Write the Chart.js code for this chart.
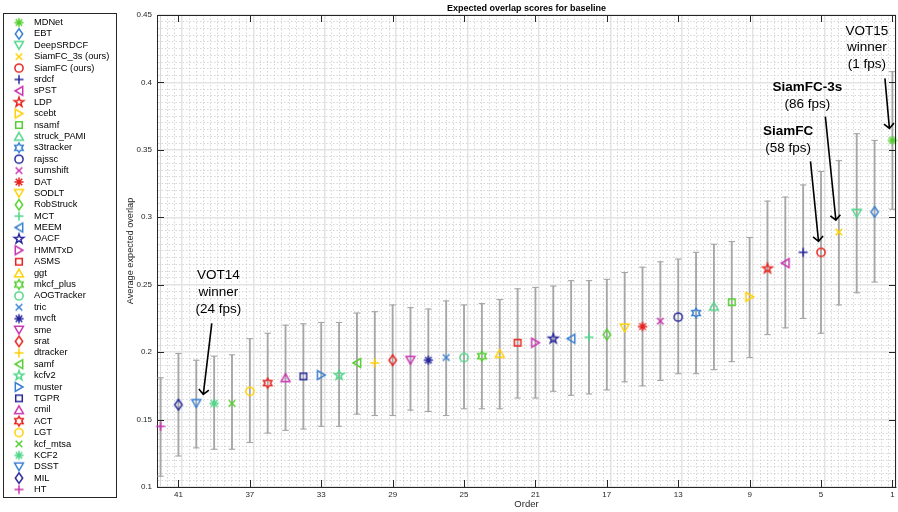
<!DOCTYPE html>
<html>
<head>
<meta charset="utf-8">
<title>Expected overlap scores for baseline</title>
<script src="https://cdn.jsdelivr.net/npm/chart.js@4.4.0/dist/chart.umd.min.js"></script>
<style>
  html, body { margin: 0; padding: 0; background: #fff; overflow: hidden; }
  #wrap { width: 898px; height: 512px; position: relative; }
  #wrap canvas { display: block; }
</style>
</head>
<body>
<div id="wrap"><canvas id="eaoChart"></canvas></div>
<script>
// trackers in rank order (order 1 = best)
const trackers = [
    "MDNet", "EBT", "DeepSRDCF", "SiamFC_3s (ours)", "SiamFC (ours)", "srdcf", "sPST",
    "LDP", "scebt", "nsamf", "struck_PAMI", "s3tracker", "rajssc", "sumshift",
    "DAT", "SODLT", "RobStruck", "MCT", "MEEM", "OACF", "HMMTxD",
    "ASMS", "ggt", "mkcf_plus", "AOGTracker", "tric", "mvcft", "sme",
    "srat", "dtracker", "samf", "kcfv2", "muster", "TGPR", "cmil",
    "ACT", "LGT", "kcf_mtsa", "KCF2", "DSST", "MIL", "HT"
];
const eaoScores = [
    0.357, 0.304, 0.303, 0.289, 0.274, 0.274, 0.266,
    0.262, 0.241, 0.237, 0.234, 0.229, 0.226, 0.223,
    0.219, 0.218, 0.213, 0.211, 0.210, 0.210, 0.207,
    0.207, 0.199, 0.197, 0.196, 0.196, 0.194, 0.194,
    0.194, 0.192, 0.192, 0.183, 0.183, 0.182, 0.181,
    0.177, 0.171, 0.162, 0.162, 0.162, 0.161, 0.145
];
const eaoLow = [
    0.306, 0.252, 0.244, 0.235, 0.214, 0.225, 0.218,
    0.213, 0.196, 0.193, 0.187, 0.184, 0.184, 0.179,
    0.175, 0.178, 0.172, 0.169, 0.168, 0.171, 0.166,
    0.166, 0.158, 0.158, 0.158, 0.153, 0.156, 0.157,
    0.153, 0.153, 0.154, 0.145, 0.145, 0.143, 0.142,
    0.140, 0.133, 0.128, 0.128, 0.129, 0.123, 0.108
];
const eaoHigh = [
    0.408, 0.357, 0.362, 0.342, 0.334, 0.324, 0.315,
    0.312, 0.285, 0.282, 0.280, 0.274, 0.269, 0.267,
    0.263, 0.259, 0.254, 0.253, 0.253, 0.249, 0.248,
    0.247, 0.239, 0.236, 0.235, 0.238, 0.232, 0.233,
    0.235, 0.230, 0.229, 0.222, 0.222, 0.221, 0.220,
    0.214, 0.210, 0.198, 0.197, 0.194, 0.199, 0.181
];
const xTickLabels = [41, 37, 33, 29, 25, 21, 17, 13, 9, 5, 1];
const yTickLabels = [0.1, 0.15, 0.2, 0.25, 0.3, 0.35, 0.4, 0.45];

// marker shape and colour per tracker (MATLAB style)
const markerShapes = [
    "star", "diamond", "down", "x", "circle", "plus", "left",
    "penta", "right", "square", "up", "hexa", "circle", "x",
    "star", "down", "diamond", "plus", "left", "penta", "right",
    "square", "up", "hexa", "circle", "x", "star", "down",
    "diamond", "plus", "left", "penta", "right", "square", "up",
    "hexa", "circle", "x", "star", "down", "diamond", "plus"
];
const markerColors = [
    "green", "blue", "mint", "yellow", "red", "navy", "magenta",
    "red", "yellow", "green", "mint", "blue", "navy", "magenta",
    "red", "yellow", "green", "mint", "blue", "navy", "magenta",
    "red", "yellow", "green", "mint", "blue", "navy", "magenta",
    "red", "yellow", "green", "mint", "blue", "navy", "magenta",
    "red", "yellow", "green", "mint", "blue", "navy", "magenta"
];
const palette = {
    green: "#55cf30", blue: "#3a80d2", mint: "#52d68a", yellow: "#ffd000",
    red: "#e8231f", navy: "#28289c", magenta: "#c834b0"
};

const callouts = [
    { tracker: "DSST", lines: [["VOT14", false], ["winner", false], ["(24 fps)", false]],
      text: [22, -128], from: [15.5, -80], to: [7, -9] },
    { tracker: "SiamFC (ours)", lines: [["SiamFC", true], ["(58 fps)", false]],
      text: [-33, -121], from: [-10.5, -91], to: [-2.5, -11] },
    { tracker: "SiamFC_3s (ours)", lines: [["SiamFC-3s", true], ["(86 fps)", false]],
      text: [-31.5, -144.5], from: [-13.5, -115.5], to: [-3, -12] },
    { tracker: "MDNet", lines: [["VOT15", false], ["winner", false], ["(1 fps)", false]],
      text: [-25.5, -109.5], from: [-7.5, -62], to: [-3, -12] }
];

const FONT = "'Liberation Sans', Arial, Helvetica, sans-serif";
const BAR_GRAY = "#a6a6a6";

function makeMarker(shape, color) {
    const c = document.createElement("canvas");
    c.width = 16; c.height = 16;
    const g = c.getContext("2d");
    g.translate(8, 8);
    g.strokeStyle = color;
    g.lineWidth = 1.5;
    g.beginPath();
    const poly = pts => { pts.forEach(([px, py], k) => k ? g.lineTo(px, py) : g.moveTo(px, py)); g.closePath(); };
    const spokes = (r, angles) => angles.forEach(a => {
        g.moveTo(-r * Math.cos(a), -r * Math.sin(a));
        g.lineTo(r * Math.cos(a), r * Math.sin(a));
    });
    const starPts = (n, outer, inner) => {
        const pts = [];
        for (let k = 0; k < 2 * n; k++) {
            const r = k % 2 ? inner : outer;
            const a = -Math.PI / 2 + k * Math.PI / n;
            pts.push([r * Math.cos(a), r * Math.sin(a)]);
        }
        return pts;
    };
    switch (shape) {
        case "circle": g.arc(0, 0, 4.1, 0, Math.PI * 2); break;
        case "square": g.rect(-3.3, -3.3, 6.6, 6.6); break;
        case "diamond": poly([[0, -5.2], [3.7, 0], [0, 5.2], [-3.7, 0]]); break;
        case "up": poly([[0, -3.9], [4.4, 3.7], [-4.4, 3.7]]); break;
        case "down": poly([[0, 3.9], [4.4, -3.7], [-4.4, -3.7]]); break;
        case "left": poly([[-3.9, 0], [3.7, -4.4], [3.7, 4.4]]); break;
        case "right": poly([[3.9, 0], [-3.7, -4.4], [-3.7, 4.4]]); break;
        case "plus": spokes(4.5, [0, Math.PI / 2]); break;
        case "x": spokes(4.7, [Math.PI / 4, -Math.PI / 4]); break;
        case "star": spokes(4.6, [0, Math.PI / 4, Math.PI / 2, 3 * Math.PI / 4]); break;
        case "penta": poly(starPts(5, 5, 2)); break;
        case "hexa": poly(starPts(6, 4.8, 2.75)); break;
    }
    g.stroke();
    return c;
}

const isMajorX = v => xTickLabels.some(t => Math.abs(t - v) < 1e-6);
const isMajorY = v => yTickLabels.some(t => Math.abs(t - v) < 1e-6);

const decorPlugin = {
    id: "decor",
    afterDraw(chart) {
        const { ctx, chartArea: a, scales: { x, y } } = chart;
        ctx.save();

        // box on top and right, inner tick marks
        ctx.strokeStyle = "#262626";
        ctx.lineWidth = 1;
        ctx.beginPath();
        ctx.moveTo(a.left, a.top + 0.5); ctx.lineTo(a.right, a.top + 0.5);
        ctx.moveTo(a.right - 0.5, a.top); ctx.lineTo(a.right - 0.5, a.bottom);
        const tl = 7;
        xTickLabels.forEach(v => {
            const px = Math.round(x.getPixelForValue(v)) + 0.5;
            ctx.moveTo(px, a.bottom); ctx.lineTo(px, a.bottom - tl);
            ctx.moveTo(px, a.top); ctx.lineTo(px, a.top + tl);
        });
        yTickLabels.forEach(v => {
            const py = Math.round(y.getPixelForValue(v)) + 0.5;
            ctx.moveTo(a.left, py); ctx.lineTo(a.left + tl, py);
            ctx.moveTo(a.right, py); ctx.lineTo(a.right - tl, py);
        });
        ctx.stroke();

        // legend frame
        const lg = chart.legend;
        const hb = lg.legendHitBoxes;
        if (hb && hb.length) {
            const last = hb[hb.length - 1];
            const top = Math.round(hb[0].top - 5) + 0.5;
            const bottom = Math.round(last.top + last.height + 3) + 0.5;
            ctx.strokeRect(Math.round(lg.left - 3.5) + 0.5, top, 113, bottom - top);
        }

        // callouts with arrows
        ctx.fillStyle = "#000";
        ctx.strokeStyle = "#000";
        ctx.textAlign = "center";
        ctx.textBaseline = "middle";
        callouts.forEach(c => {
            const i = trackers.indexOf(c.tracker);
            const px = x.getPixelForValue(i + 1);
            const py = y.getPixelForValue(eaoScores[i]);
            c.lines.forEach(([t, bold], k) => {
                ctx.font = (bold ? "bold " : "") + "13.5px " + FONT;
                ctx.fillText(t, px + c.text[0], py + c.text[1] + k * 16.8);
            });
            const x0 = px + c.from[0], y0 = py + c.from[1];
            const x1 = px + c.to[0], y1 = py + c.to[1];
            const ang = Math.atan2(y1 - y0, x1 - x0), h = 7, spread = 0.8;
            ctx.lineWidth = 1.6;
            ctx.beginPath();
            ctx.moveTo(x0, y0); ctx.lineTo(x1, y1);
            ctx.moveTo(x1 - h * Math.cos(ang - spread), y1 - h * Math.sin(ang - spread));
            ctx.lineTo(x1, y1);
            ctx.lineTo(x1 - h * Math.cos(ang + spread), y1 - h * Math.sin(ang + spread));
            ctx.stroke();
        });
        ctx.restore();
    }
};

const errorBars = {
    type: "bar",
    label: "range",
    data: trackers.map((t, i) => ({ x: i + 1, y: [eaoLow[i], eaoHigh[i]] })),
    backgroundColor: BAR_GRAY,
    barThickness: 1.2,
    order: 2,
    clip: false
};
const errorCaps = {
    type: "scatter",
    label: "caps",
    data: trackers.flatMap((t, i) => [{ x: i + 1, y: eaoLow[i] }, { x: i + 1, y: eaoHigh[i] }]),
    pointStyle: "line",
    pointRadius: 3.2,
    borderColor: BAR_GRAY,
    pointBorderColor: BAR_GRAY,
    pointBorderWidth: 1.1,
    order: 1,
    clip: false
};
const trackerSets = trackers.map((name, i) => ({
    type: "scatter",
    label: name,
    data: [{ x: i + 1, y: eaoScores[i] }],
    pointStyle: makeMarker(markerShapes[i], palette[markerColors[i]]),
    pointRadius: 5,
    order: 0,
    clip: false
}));

const xTicks = [];
for (let k = 0; 1 + k * 0.4 < 42 - 1e-6; k++) xTicks.push(Math.round((1 + k * 0.4) * 10) / 10);
const yTicks = [];
for (let k = 0; k <= 70; k++) yTicks.push(Math.round((0.1 + k * 0.005) * 1000) / 1000);

new Chart(document.getElementById("eaoChart"), {
    type: "scatter",
    data: { datasets: [errorBars, errorCaps, ...trackerSets] },
    options: {
        responsive: true,
        maintainAspectRatio: false,
        animation: false,
        events: [],
        devicePixelRatio: 1,
        layout: { autoPadding: false, padding: { left: 6.5, right: 2, top: 0, bottom: 0 } },
        scales: {
            x: {
                type: "linear",
                min: 1,
                max: 42,
                reverse: true,
                afterBuildTicks: s => { s.ticks = xTicks.map(v => ({ value: v })); },
                afterFit: s => { s.height = 25; s.paddingLeft = 0; s.paddingRight = 0; },
                ticks: {
                    autoSkip: false,
                    maxRotation: 0,
                    padding: 2.5,
                    color: "#262626",
                    font: { family: FONT, size: 8 },
                    callback: v => isMajorX(v) ? String(Math.round(v)) : ""
                },
                grid: {
                    drawTicks: false,
                    color: c => (c.tick && isMajorX(c.tick.value)) ? "#e4e4e4" : "#cdcdcd",
                    lineWidth: c => (c.tick && isMajorX(c.tick.value)) ? 1.5 : 0.8
                },
                border: {
                    display: true, color: "#262626", width: 1,
                    dash: c => (c.tick && !isMajorX(c.tick.value)) ? [1.5, 2] : []
                },
                title: {
                    display: true, text: "Order", color: "#262626",
                    font: { family: FONT, size: 9.5 },
                    padding: { top: 0, bottom: 2 }
                }
            },
            y: {
                min: 0.1,
                max: 0.45,
                afterBuildTicks: s => { s.ticks = yTicks.map(v => ({ value: v })); },
                afterFit: s => {
                    const lg = s.chart.legend;
                    s.width = 150.5 - (lg && lg.width ? lg.width : 112);
                    s.paddingTop = 0; s.paddingBottom = 0;
                },
                ticks: {
                    autoSkip: false,
                    padding: 5,
                    color: "#262626",
                    font: { family: FONT, size: 8 },
                    callback: v => isMajorY(v) ? String(+v.toFixed(2)) : ""
                },
                grid: {
                    drawTicks: false,
                    color: c => (c.tick && isMajorY(c.tick.value)) ? "#e4e4e4" : "#cdcdcd",
                    lineWidth: c => (c.tick && isMajorY(c.tick.value)) ? 1.5 : 0.8
                },
                border: {
                    display: true, color: "#262626", width: 1,
                    dash: c => (c.tick && !isMajorY(c.tick.value)) ? [1.5, 2] : []
                },
                title: {
                    display: true, text: "Average expected overlap", color: "#262626",
                    font: { family: FONT, size: 9.2 },
                    padding: { top: 5.6, bottom: 0 }
                }
            }
        },
        plugins: {
            title: {
                display: true,
                text: "Expected overlap scores for baseline",
                fullSize: false,
                color: "#000",
                font: { family: FONT, size: 9, weight: "bold" },
                padding: { top: 3, bottom: 1.2 }
            },
            legend: {
                position: "left",
                align: "center",
                labels: {
                    usePointStyle: true,
                    pointStyleWidth: 20.7,
                    padding: 2.09,
                    color: "#000",
                    font: { family: FONT, size: 9.3 },
                    filter: item => item.datasetIndex >= 2
                }
            },
            tooltip: { enabled: false }
        }
    },
    plugins: [decorPlugin]
});
</script>
</body>
</html>
